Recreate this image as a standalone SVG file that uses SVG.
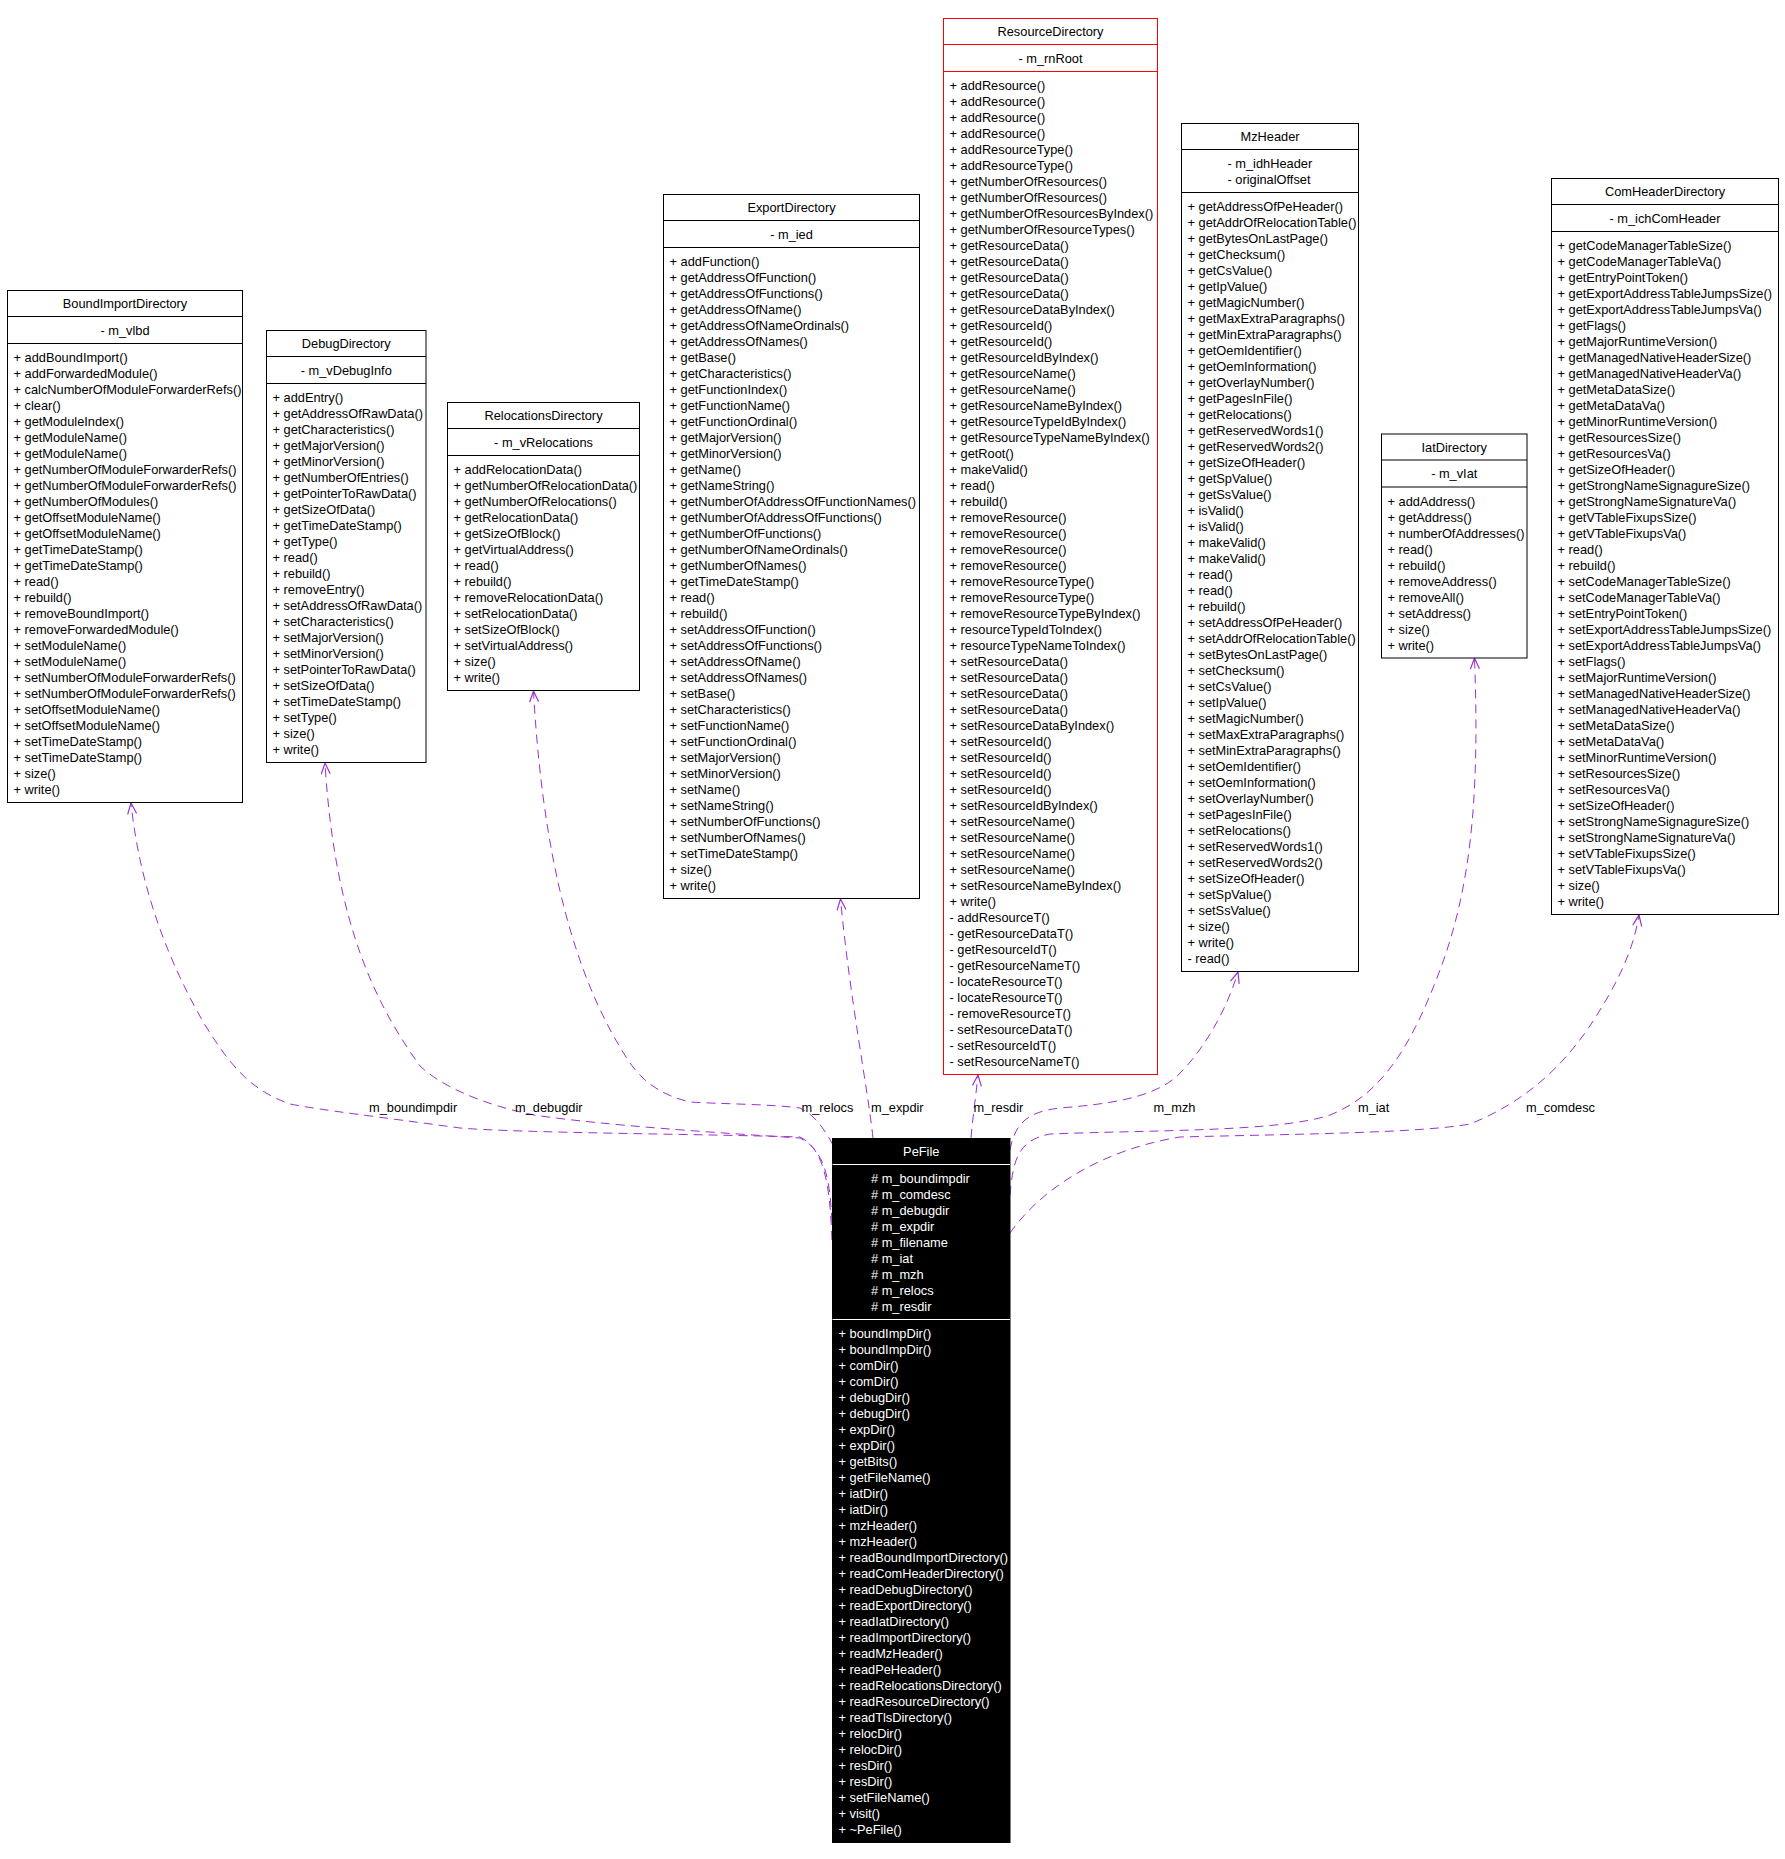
<svg xmlns="http://www.w3.org/2000/svg" width="1785" height="1859" viewBox="0 0 1785 1859">
<style>
.t{font-family:"Liberation Sans",Arial,Helvetica,sans-serif;font-size:12.8px;fill:#000}
.w{fill:#fff}
.c{text-anchor:middle}
.box{fill:#fff;stroke:#000;stroke-width:1}
.red{fill:#fff;stroke:#ff0000;stroke-width:1}
.sep{stroke:#000;stroke-width:1}
.rsep{stroke:#ff0000;stroke-width:1}
.wsep{stroke:#fff;stroke-width:1}
.edge{fill:none;stroke:#9a32cd;stroke-width:1;stroke-dasharray:9,6;marker-end:url(#vee)}
</style>
<defs>
<marker id="vee" viewBox="0 0 12 10" refX="11.5" refY="5" markerWidth="12" markerHeight="10" markerUnits="userSpaceOnUse" orient="auto"><path d="M0.5,0.5 L11.5,5 L0.5,9.5" fill="none" stroke="#9a32cd" stroke-width="1.2"/></marker>
</defs>
<rect width="1785" height="1859" fill="#fff"/>

<g id="connectors">
<path class="edge" d="M832,1240 C830,1190 826,1150 800,1137 C700,1134 520,1133 460,1128 C380,1117 320,1110 290,1104 C250,1090 230,1065 205,1025 C170,965 140,890 131,803"/>
<path class="edge" d="M832,1222 C830,1180 825,1150 800,1138 C720,1133 600,1125 534,1115 C480,1104 440,1085 420,1066 C380,1010 335,930 325,763"/>
<path class="edge" d="M833,1145 C825,1130 815,1115 800,1108 C770,1104 720,1104 690,1102 C660,1095 640,1080 626,1057 C590,1000 545,900 533.5,691"/>
<path class="edge" d="M873,1138 C868,1090 850,1000 840.5,899"/>
<path class="edge" d="M971,1138 C973,1115 976,1095 978,1075"/>
<path class="edge" d="M1010,1150 C1015,1125 1025,1112 1060,1108 C1110,1104 1150,1098 1175,1078 C1200,1055 1225,1015 1238,972"/>
<path class="edge" d="M1010,1195 C1013,1160 1018,1140 1050,1134 C1150,1130 1280,1132 1330,1115 C1380,1095 1410,1050 1440,970 C1470,890 1480,800 1474.5,658"/>
<path class="edge" d="M1010,1233 C1040,1190 1100,1150 1180,1137 C1300,1134 1420,1133 1470,1124 C1530,1100 1570,1060 1600,1010 C1625,970 1635,940 1639,915"/>
<text class="t" x="369" y="1111.5">m_boundimpdir</text>
<text class="t" x="515" y="1111.5">m_debugdir</text>
<text class="t" x="801.5" y="1111.5">m_relocs</text>
<text class="t" x="871" y="1111.5">m_expdir</text>
<text class="t" x="973.5" y="1111.5">m_resdir</text>
<text class="t" x="1153.5" y="1111.5">m_mzh</text>
<text class="t" x="1358" y="1111.5">m_iat</text>
<text class="t" x="1526" y="1111.5">m_comdesc</text>
</g>

<g id="BoundImportDirectory">
<rect class="box" x="7.5" y="290.5" width="235" height="512"/>
<line class="sep" x1="7.5" y1="316.5" x2="242.5" y2="316.5"/>
<line class="sep" x1="7.5" y1="343.5" x2="242.5" y2="343.5"/>
<text class="t c" x="125" y="308">BoundImportDirectory</text>
<text class="t c" x="125" y="334.5">- m_vlbd</text>
<text class="t" y="362"><tspan x="13.5">+ addBoundImport()</tspan><tspan x="13.5" dy="16">+ addForwardedModule()</tspan><tspan x="13.5" dy="16">+ calcNumberOfModuleForwarderRefs()</tspan><tspan x="13.5" dy="16">+ clear()</tspan><tspan x="13.5" dy="16">+ getModuleIndex()</tspan><tspan x="13.5" dy="16">+ getModuleName()</tspan><tspan x="13.5" dy="16">+ getModuleName()</tspan><tspan x="13.5" dy="16">+ getNumberOfModuleForwarderRefs()</tspan><tspan x="13.5" dy="16">+ getNumberOfModuleForwarderRefs()</tspan><tspan x="13.5" dy="16">+ getNumberOfModules()</tspan><tspan x="13.5" dy="16">+ getOffsetModuleName()</tspan><tspan x="13.5" dy="16">+ getOffsetModuleName()</tspan><tspan x="13.5" dy="16">+ getTimeDateStamp()</tspan><tspan x="13.5" dy="16">+ getTimeDateStamp()</tspan><tspan x="13.5" dy="16">+ read()</tspan><tspan x="13.5" dy="16">+ rebuild()</tspan><tspan x="13.5" dy="16">+ removeBoundImport()</tspan><tspan x="13.5" dy="16">+ removeForwardedModule()</tspan><tspan x="13.5" dy="16">+ setModuleName()</tspan><tspan x="13.5" dy="16">+ setModuleName()</tspan><tspan x="13.5" dy="16">+ setNumberOfModuleForwarderRefs()</tspan><tspan x="13.5" dy="16">+ setNumberOfModuleForwarderRefs()</tspan><tspan x="13.5" dy="16">+ setOffsetModuleName()</tspan><tspan x="13.5" dy="16">+ setOffsetModuleName()</tspan><tspan x="13.5" dy="16">+ setTimeDateStamp()</tspan><tspan x="13.5" dy="16">+ setTimeDateStamp()</tspan><tspan x="13.5" dy="16">+ size()</tspan><tspan x="13.5" dy="16">+ write()</tspan></text>
</g>

<g id="DebugDirectory">
<rect class="box" x="266.5" y="330.5" width="159.5" height="432"/>
<line class="sep" x1="266.5" y1="356.5" x2="426" y2="356.5"/>
<line class="sep" x1="266.5" y1="383.5" x2="426" y2="383.5"/>
<text class="t c" x="346.25" y="348">DebugDirectory</text>
<text class="t c" x="346.25" y="374.5">- m_vDebugInfo</text>
<text class="t" y="402"><tspan x="272.5">+ addEntry()</tspan><tspan x="272.5" dy="16">+ getAddressOfRawData()</tspan><tspan x="272.5" dy="16">+ getCharacteristics()</tspan><tspan x="272.5" dy="16">+ getMajorVersion()</tspan><tspan x="272.5" dy="16">+ getMinorVersion()</tspan><tspan x="272.5" dy="16">+ getNumberOfEntries()</tspan><tspan x="272.5" dy="16">+ getPointerToRawData()</tspan><tspan x="272.5" dy="16">+ getSizeOfData()</tspan><tspan x="272.5" dy="16">+ getTimeDateStamp()</tspan><tspan x="272.5" dy="16">+ getType()</tspan><tspan x="272.5" dy="16">+ read()</tspan><tspan x="272.5" dy="16">+ rebuild()</tspan><tspan x="272.5" dy="16">+ removeEntry()</tspan><tspan x="272.5" dy="16">+ setAddressOfRawData()</tspan><tspan x="272.5" dy="16">+ setCharacteristics()</tspan><tspan x="272.5" dy="16">+ setMajorVersion()</tspan><tspan x="272.5" dy="16">+ setMinorVersion()</tspan><tspan x="272.5" dy="16">+ setPointerToRawData()</tspan><tspan x="272.5" dy="16">+ setSizeOfData()</tspan><tspan x="272.5" dy="16">+ setTimeDateStamp()</tspan><tspan x="272.5" dy="16">+ setType()</tspan><tspan x="272.5" dy="16">+ size()</tspan><tspan x="272.5" dy="16">+ write()</tspan></text>
</g>

<g id="RelocationsDirectory">
<rect class="box" x="447.5" y="402.5" width="192" height="288"/>
<line class="sep" x1="447.5" y1="428.5" x2="639.5" y2="428.5"/>
<line class="sep" x1="447.5" y1="455.5" x2="639.5" y2="455.5"/>
<text class="t c" x="543.5" y="420">RelocationsDirectory</text>
<text class="t c" x="543.5" y="446.5">- m_vRelocations</text>
<text class="t" y="474"><tspan x="453.5">+ addRelocationData()</tspan><tspan x="453.5" dy="16">+ getNumberOfRelocationData()</tspan><tspan x="453.5" dy="16">+ getNumberOfRelocations()</tspan><tspan x="453.5" dy="16">+ getRelocationData()</tspan><tspan x="453.5" dy="16">+ getSizeOfBlock()</tspan><tspan x="453.5" dy="16">+ getVirtualAddress()</tspan><tspan x="453.5" dy="16">+ read()</tspan><tspan x="453.5" dy="16">+ rebuild()</tspan><tspan x="453.5" dy="16">+ removeRelocationData()</tspan><tspan x="453.5" dy="16">+ setRelocationData()</tspan><tspan x="453.5" dy="16">+ setSizeOfBlock()</tspan><tspan x="453.5" dy="16">+ setVirtualAddress()</tspan><tspan x="453.5" dy="16">+ size()</tspan><tspan x="453.5" dy="16">+ write()</tspan></text>
</g>

<g id="ExportDirectory">
<rect class="box" x="663.5" y="194.5" width="256" height="704"/>
<line class="sep" x1="663.5" y1="220.5" x2="919.5" y2="220.5"/>
<line class="sep" x1="663.5" y1="247.5" x2="919.5" y2="247.5"/>
<text class="t c" x="791.5" y="212">ExportDirectory</text>
<text class="t c" x="791.5" y="238.5">- m_ied</text>
<text class="t" y="266"><tspan x="669.5">+ addFunction()</tspan><tspan x="669.5" dy="16">+ getAddressOfFunction()</tspan><tspan x="669.5" dy="16">+ getAddressOfFunctions()</tspan><tspan x="669.5" dy="16">+ getAddressOfName()</tspan><tspan x="669.5" dy="16">+ getAddressOfNameOrdinals()</tspan><tspan x="669.5" dy="16">+ getAddressOfNames()</tspan><tspan x="669.5" dy="16">+ getBase()</tspan><tspan x="669.5" dy="16">+ getCharacteristics()</tspan><tspan x="669.5" dy="16">+ getFunctionIndex()</tspan><tspan x="669.5" dy="16">+ getFunctionName()</tspan><tspan x="669.5" dy="16">+ getFunctionOrdinal()</tspan><tspan x="669.5" dy="16">+ getMajorVersion()</tspan><tspan x="669.5" dy="16">+ getMinorVersion()</tspan><tspan x="669.5" dy="16">+ getName()</tspan><tspan x="669.5" dy="16">+ getNameString()</tspan><tspan x="669.5" dy="16">+ getNumberOfAddressOfFunctionNames()</tspan><tspan x="669.5" dy="16">+ getNumberOfAddressOfFunctions()</tspan><tspan x="669.5" dy="16">+ getNumberOfFunctions()</tspan><tspan x="669.5" dy="16">+ getNumberOfNameOrdinals()</tspan><tspan x="669.5" dy="16">+ getNumberOfNames()</tspan><tspan x="669.5" dy="16">+ getTimeDateStamp()</tspan><tspan x="669.5" dy="16">+ read()</tspan><tspan x="669.5" dy="16">+ rebuild()</tspan><tspan x="669.5" dy="16">+ setAddressOfFunction()</tspan><tspan x="669.5" dy="16">+ setAddressOfFunctions()</tspan><tspan x="669.5" dy="16">+ setAddressOfName()</tspan><tspan x="669.5" dy="16">+ setAddressOfNames()</tspan><tspan x="669.5" dy="16">+ setBase()</tspan><tspan x="669.5" dy="16">+ setCharacteristics()</tspan><tspan x="669.5" dy="16">+ setFunctionName()</tspan><tspan x="669.5" dy="16">+ setFunctionOrdinal()</tspan><tspan x="669.5" dy="16">+ setMajorVersion()</tspan><tspan x="669.5" dy="16">+ setMinorVersion()</tspan><tspan x="669.5" dy="16">+ setName()</tspan><tspan x="669.5" dy="16">+ setNameString()</tspan><tspan x="669.5" dy="16">+ setNumberOfFunctions()</tspan><tspan x="669.5" dy="16">+ setNumberOfNames()</tspan><tspan x="669.5" dy="16">+ setTimeDateStamp()</tspan><tspan x="669.5" dy="16">+ size()</tspan><tspan x="669.5" dy="16">+ write()</tspan></text>
</g>

<g id="ResourceDirectory">
<rect class="red" x="943.5" y="18.5" width="214" height="1056"/>
<line class="rsep" x1="943.5" y1="44.5" x2="1157.5" y2="44.5"/>
<line class="rsep" x1="943.5" y1="71.5" x2="1157.5" y2="71.5"/>
<text class="t c" x="1050.5" y="36">ResourceDirectory</text>
<text class="t c" x="1050.5" y="62.5">- m_rnRoot</text>
<text class="t" y="90"><tspan x="949.5">+ addResource()</tspan><tspan x="949.5" dy="16">+ addResource()</tspan><tspan x="949.5" dy="16">+ addResource()</tspan><tspan x="949.5" dy="16">+ addResource()</tspan><tspan x="949.5" dy="16">+ addResourceType()</tspan><tspan x="949.5" dy="16">+ addResourceType()</tspan><tspan x="949.5" dy="16">+ getNumberOfResources()</tspan><tspan x="949.5" dy="16">+ getNumberOfResources()</tspan><tspan x="949.5" dy="16">+ getNumberOfResourcesByIndex()</tspan><tspan x="949.5" dy="16">+ getNumberOfResourceTypes()</tspan><tspan x="949.5" dy="16">+ getResourceData()</tspan><tspan x="949.5" dy="16">+ getResourceData()</tspan><tspan x="949.5" dy="16">+ getResourceData()</tspan><tspan x="949.5" dy="16">+ getResourceData()</tspan><tspan x="949.5" dy="16">+ getResourceDataByIndex()</tspan><tspan x="949.5" dy="16">+ getResourceId()</tspan><tspan x="949.5" dy="16">+ getResourceId()</tspan><tspan x="949.5" dy="16">+ getResourceIdByIndex()</tspan><tspan x="949.5" dy="16">+ getResourceName()</tspan><tspan x="949.5" dy="16">+ getResourceName()</tspan><tspan x="949.5" dy="16">+ getResourceNameByIndex()</tspan><tspan x="949.5" dy="16">+ getResourceTypeIdByIndex()</tspan><tspan x="949.5" dy="16">+ getResourceTypeNameByIndex()</tspan><tspan x="949.5" dy="16">+ getRoot()</tspan><tspan x="949.5" dy="16">+ makeValid()</tspan><tspan x="949.5" dy="16">+ read()</tspan><tspan x="949.5" dy="16">+ rebuild()</tspan><tspan x="949.5" dy="16">+ removeResource()</tspan><tspan x="949.5" dy="16">+ removeResource()</tspan><tspan x="949.5" dy="16">+ removeResource()</tspan><tspan x="949.5" dy="16">+ removeResource()</tspan><tspan x="949.5" dy="16">+ removeResourceType()</tspan><tspan x="949.5" dy="16">+ removeResourceType()</tspan><tspan x="949.5" dy="16">+ removeResourceTypeByIndex()</tspan><tspan x="949.5" dy="16">+ resourceTypeIdToIndex()</tspan><tspan x="949.5" dy="16">+ resourceTypeNameToIndex()</tspan><tspan x="949.5" dy="16">+ setResourceData()</tspan><tspan x="949.5" dy="16">+ setResourceData()</tspan><tspan x="949.5" dy="16">+ setResourceData()</tspan><tspan x="949.5" dy="16">+ setResourceData()</tspan><tspan x="949.5" dy="16">+ setResourceDataByIndex()</tspan><tspan x="949.5" dy="16">+ setResourceId()</tspan><tspan x="949.5" dy="16">+ setResourceId()</tspan><tspan x="949.5" dy="16">+ setResourceId()</tspan><tspan x="949.5" dy="16">+ setResourceId()</tspan><tspan x="949.5" dy="16">+ setResourceIdByIndex()</tspan><tspan x="949.5" dy="16">+ setResourceName()</tspan><tspan x="949.5" dy="16">+ setResourceName()</tspan><tspan x="949.5" dy="16">+ setResourceName()</tspan><tspan x="949.5" dy="16">+ setResourceName()</tspan><tspan x="949.5" dy="16">+ setResourceNameByIndex()</tspan><tspan x="949.5" dy="16">+ write()</tspan><tspan x="949.5" dy="16">- addResourceT()</tspan><tspan x="949.5" dy="16">- getResourceDataT()</tspan><tspan x="949.5" dy="16">- getResourceIdT()</tspan><tspan x="949.5" dy="16">- getResourceNameT()</tspan><tspan x="949.5" dy="16">- locateResourceT()</tspan><tspan x="949.5" dy="16">- locateResourceT()</tspan><tspan x="949.5" dy="16">- removeResourceT()</tspan><tspan x="949.5" dy="16">- setResourceDataT()</tspan><tspan x="949.5" dy="16">- setResourceIdT()</tspan><tspan x="949.5" dy="16">- setResourceNameT()</tspan></text>
</g>

<g id="MzHeader">
<rect class="box" x="1181.5" y="123.5" width="177" height="848"/>
<line class="sep" x1="1181.5" y1="149.5" x2="1358.5" y2="149.5"/>
<line class="sep" x1="1181.5" y1="192.5" x2="1358.5" y2="192.5"/>
<text class="t c" x="1270" y="141">MzHeader</text>
<text class="t" y="167.5"><tspan x="1227.5">- m_idhHeader</tspan><tspan x="1227.5" dy="16">- originalOffset</tspan></text>
<text class="t" y="211"><tspan x="1187.5">+ getAddressOfPeHeader()</tspan><tspan x="1187.5" dy="16">+ getAddrOfRelocationTable()</tspan><tspan x="1187.5" dy="16">+ getBytesOnLastPage()</tspan><tspan x="1187.5" dy="16">+ getChecksum()</tspan><tspan x="1187.5" dy="16">+ getCsValue()</tspan><tspan x="1187.5" dy="16">+ getIpValue()</tspan><tspan x="1187.5" dy="16">+ getMagicNumber()</tspan><tspan x="1187.5" dy="16">+ getMaxExtraParagraphs()</tspan><tspan x="1187.5" dy="16">+ getMinExtraParagraphs()</tspan><tspan x="1187.5" dy="16">+ getOemIdentifier()</tspan><tspan x="1187.5" dy="16">+ getOemInformation()</tspan><tspan x="1187.5" dy="16">+ getOverlayNumber()</tspan><tspan x="1187.5" dy="16">+ getPagesInFile()</tspan><tspan x="1187.5" dy="16">+ getRelocations()</tspan><tspan x="1187.5" dy="16">+ getReservedWords1()</tspan><tspan x="1187.5" dy="16">+ getReservedWords2()</tspan><tspan x="1187.5" dy="16">+ getSizeOfHeader()</tspan><tspan x="1187.5" dy="16">+ getSpValue()</tspan><tspan x="1187.5" dy="16">+ getSsValue()</tspan><tspan x="1187.5" dy="16">+ isValid()</tspan><tspan x="1187.5" dy="16">+ isValid()</tspan><tspan x="1187.5" dy="16">+ makeValid()</tspan><tspan x="1187.5" dy="16">+ makeValid()</tspan><tspan x="1187.5" dy="16">+ read()</tspan><tspan x="1187.5" dy="16">+ read()</tspan><tspan x="1187.5" dy="16">+ rebuild()</tspan><tspan x="1187.5" dy="16">+ setAddressOfPeHeader()</tspan><tspan x="1187.5" dy="16">+ setAddrOfRelocationTable()</tspan><tspan x="1187.5" dy="16">+ setBytesOnLastPage()</tspan><tspan x="1187.5" dy="16">+ setChecksum()</tspan><tspan x="1187.5" dy="16">+ setCsValue()</tspan><tspan x="1187.5" dy="16">+ setIpValue()</tspan><tspan x="1187.5" dy="16">+ setMagicNumber()</tspan><tspan x="1187.5" dy="16">+ setMaxExtraParagraphs()</tspan><tspan x="1187.5" dy="16">+ setMinExtraParagraphs()</tspan><tspan x="1187.5" dy="16">+ setOemIdentifier()</tspan><tspan x="1187.5" dy="16">+ setOemInformation()</tspan><tspan x="1187.5" dy="16">+ setOverlayNumber()</tspan><tspan x="1187.5" dy="16">+ setPagesInFile()</tspan><tspan x="1187.5" dy="16">+ setRelocations()</tspan><tspan x="1187.5" dy="16">+ setReservedWords1()</tspan><tspan x="1187.5" dy="16">+ setReservedWords2()</tspan><tspan x="1187.5" dy="16">+ setSizeOfHeader()</tspan><tspan x="1187.5" dy="16">+ setSpValue()</tspan><tspan x="1187.5" dy="16">+ setSsValue()</tspan><tspan x="1187.5" dy="16">+ size()</tspan><tspan x="1187.5" dy="16">+ write()</tspan><tspan x="1187.5" dy="16">- read()</tspan></text>
</g>

<g id="IatDirectory">
<rect class="box" x="1381.5" y="434" width="145.5" height="224"/>
<line class="sep" x1="1381.5" y1="460" x2="1527" y2="460"/>
<line class="sep" x1="1381.5" y1="487" x2="1527" y2="487"/>
<text class="t c" x="1454.25" y="451.5">IatDirectory</text>
<text class="t c" x="1454.25" y="478">- m_vIat</text>
<text class="t" y="505.5"><tspan x="1387.5">+ addAddress()</tspan><tspan x="1387.5" dy="16">+ getAddress()</tspan><tspan x="1387.5" dy="16">+ numberOfAddresses()</tspan><tspan x="1387.5" dy="16">+ read()</tspan><tspan x="1387.5" dy="16">+ rebuild()</tspan><tspan x="1387.5" dy="16">+ removeAddress()</tspan><tspan x="1387.5" dy="16">+ removeAll()</tspan><tspan x="1387.5" dy="16">+ setAddress()</tspan><tspan x="1387.5" dy="16">+ size()</tspan><tspan x="1387.5" dy="16">+ write()</tspan></text>
</g>

<g id="ComHeaderDirectory">
<rect class="box" x="1551.5" y="178.5" width="227" height="736"/>
<line class="sep" x1="1551.5" y1="204.5" x2="1778.5" y2="204.5"/>
<line class="sep" x1="1551.5" y1="231.5" x2="1778.5" y2="231.5"/>
<text class="t c" x="1665" y="196">ComHeaderDirectory</text>
<text class="t c" x="1665" y="222.5">- m_ichComHeader</text>
<text class="t" y="250"><tspan x="1557.5">+ getCodeManagerTableSize()</tspan><tspan x="1557.5" dy="16">+ getCodeManagerTableVa()</tspan><tspan x="1557.5" dy="16">+ getEntryPointToken()</tspan><tspan x="1557.5" dy="16">+ getExportAddressTableJumpsSize()</tspan><tspan x="1557.5" dy="16">+ getExportAddressTableJumpsVa()</tspan><tspan x="1557.5" dy="16">+ getFlags()</tspan><tspan x="1557.5" dy="16">+ getMajorRuntimeVersion()</tspan><tspan x="1557.5" dy="16">+ getManagedNativeHeaderSize()</tspan><tspan x="1557.5" dy="16">+ getManagedNativeHeaderVa()</tspan><tspan x="1557.5" dy="16">+ getMetaDataSize()</tspan><tspan x="1557.5" dy="16">+ getMetaDataVa()</tspan><tspan x="1557.5" dy="16">+ getMinorRuntimeVersion()</tspan><tspan x="1557.5" dy="16">+ getResourcesSize()</tspan><tspan x="1557.5" dy="16">+ getResourcesVa()</tspan><tspan x="1557.5" dy="16">+ getSizeOfHeader()</tspan><tspan x="1557.5" dy="16">+ getStrongNameSignagureSize()</tspan><tspan x="1557.5" dy="16">+ getStrongNameSignatureVa()</tspan><tspan x="1557.5" dy="16">+ getVTableFixupsSize()</tspan><tspan x="1557.5" dy="16">+ getVTableFixupsVa()</tspan><tspan x="1557.5" dy="16">+ read()</tspan><tspan x="1557.5" dy="16">+ rebuild()</tspan><tspan x="1557.5" dy="16">+ setCodeManagerTableSize()</tspan><tspan x="1557.5" dy="16">+ setCodeManagerTableVa()</tspan><tspan x="1557.5" dy="16">+ setEntryPointToken()</tspan><tspan x="1557.5" dy="16">+ setExportAddressTableJumpsSize()</tspan><tspan x="1557.5" dy="16">+ setExportAddressTableJumpsVa()</tspan><tspan x="1557.5" dy="16">+ setFlags()</tspan><tspan x="1557.5" dy="16">+ setMajorRuntimeVersion()</tspan><tspan x="1557.5" dy="16">+ setManagedNativeHeaderSize()</tspan><tspan x="1557.5" dy="16">+ setManagedNativeHeaderVa()</tspan><tspan x="1557.5" dy="16">+ setMetaDataSize()</tspan><tspan x="1557.5" dy="16">+ setMetaDataVa()</tspan><tspan x="1557.5" dy="16">+ setMinorRuntimeVersion()</tspan><tspan x="1557.5" dy="16">+ setResourcesSize()</tspan><tspan x="1557.5" dy="16">+ setResourcesVa()</tspan><tspan x="1557.5" dy="16">+ setSizeOfHeader()</tspan><tspan x="1557.5" dy="16">+ setStrongNameSignagureSize()</tspan><tspan x="1557.5" dy="16">+ setStrongNameSignatureVa()</tspan><tspan x="1557.5" dy="16">+ setVTableFixupsSize()</tspan><tspan x="1557.5" dy="16">+ setVTableFixupsVa()</tspan><tspan x="1557.5" dy="16">+ size()</tspan><tspan x="1557.5" dy="16">+ write()</tspan></text>
</g>

<g id="PeFile">
<rect x="832.5" y="1138.5" width="177.5" height="704" fill="#000" stroke="#000" stroke-width="1"/>
<line class="wsep" x1="832.5" y1="1164.5" x2="1010" y2="1164.5"/>
<line class="wsep" x1="832.5" y1="1319.5" x2="1010" y2="1319.5"/>
<text class="t w c" x="921.25" y="1156">PeFile</text>
<text class="t w" y="1182.5"><tspan x="871">#&#160;m_boundimpdir</tspan><tspan x="871" dy="16">#&#160;m_comdesc</tspan><tspan x="871" dy="16">#&#160;m_debugdir</tspan><tspan x="871" dy="16">#&#160;m_expdir</tspan><tspan x="871" dy="16">#&#160;m_filename</tspan><tspan x="871" dy="16">#&#160;m_iat</tspan><tspan x="871" dy="16">#&#160;m_mzh</tspan><tspan x="871" dy="16">#&#160;m_relocs</tspan><tspan x="871" dy="16">#&#160;m_resdir</tspan></text>
<text class="t w" y="1338"><tspan x="838.5">+ boundImpDir()</tspan><tspan x="838.5" dy="16">+ boundImpDir()</tspan><tspan x="838.5" dy="16">+ comDir()</tspan><tspan x="838.5" dy="16">+ comDir()</tspan><tspan x="838.5" dy="16">+ debugDir()</tspan><tspan x="838.5" dy="16">+ debugDir()</tspan><tspan x="838.5" dy="16">+ expDir()</tspan><tspan x="838.5" dy="16">+ expDir()</tspan><tspan x="838.5" dy="16">+ getBits()</tspan><tspan x="838.5" dy="16">+ getFileName()</tspan><tspan x="838.5" dy="16">+ iatDir()</tspan><tspan x="838.5" dy="16">+ iatDir()</tspan><tspan x="838.5" dy="16">+ mzHeader()</tspan><tspan x="838.5" dy="16">+ mzHeader()</tspan><tspan x="838.5" dy="16">+ readBoundImportDirectory()</tspan><tspan x="838.5" dy="16">+ readComHeaderDirectory()</tspan><tspan x="838.5" dy="16">+ readDebugDirectory()</tspan><tspan x="838.5" dy="16">+ readExportDirectory()</tspan><tspan x="838.5" dy="16">+ readIatDirectory()</tspan><tspan x="838.5" dy="16">+ readImportDirectory()</tspan><tspan x="838.5" dy="16">+ readMzHeader()</tspan><tspan x="838.5" dy="16">+ readPeHeader()</tspan><tspan x="838.5" dy="16">+ readRelocationsDirectory()</tspan><tspan x="838.5" dy="16">+ readResourceDirectory()</tspan><tspan x="838.5" dy="16">+ readTlsDirectory()</tspan><tspan x="838.5" dy="16">+ relocDir()</tspan><tspan x="838.5" dy="16">+ relocDir()</tspan><tspan x="838.5" dy="16">+ resDir()</tspan><tspan x="838.5" dy="16">+ resDir()</tspan><tspan x="838.5" dy="16">+ setFileName()</tspan><tspan x="838.5" dy="16">+ visit()</tspan><tspan x="838.5" dy="16">+ ~PeFile()</tspan></text>
</g>
</svg>
